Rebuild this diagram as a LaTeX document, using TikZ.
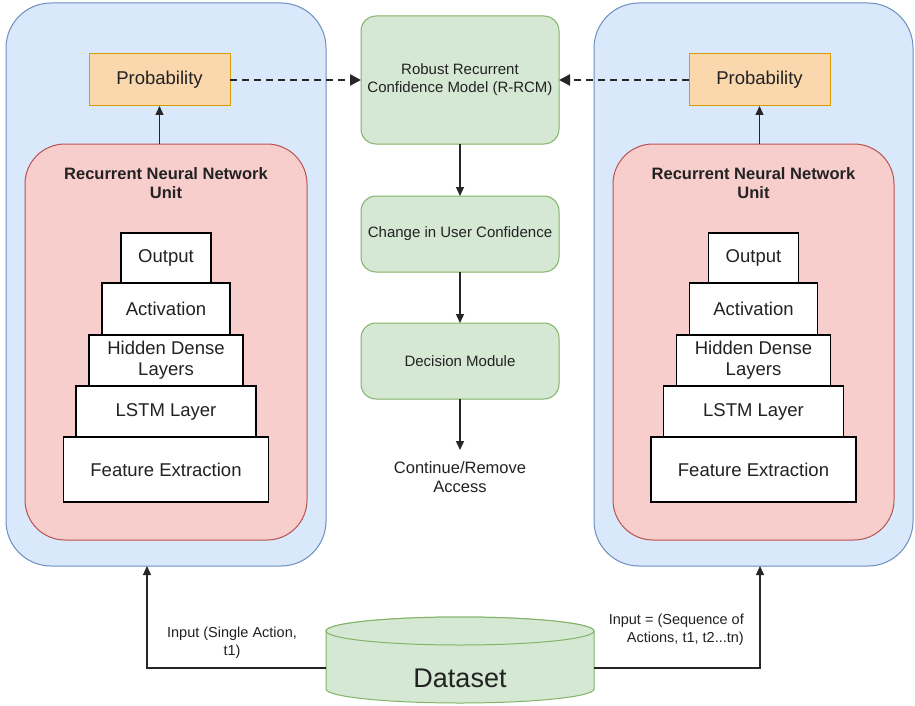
\documentclass[tikz,border=0pt]{standalone}
\usepackage{fontspec}
\setmainfont{Liberation Sans}
\usetikzlibrary{arrows.meta}

\definecolor{bluefill}{HTML}{DAE8FC}
\definecolor{blueline}{HTML}{6C8EBF}
\definecolor{redfill}{HTML}{F8CECC}
\definecolor{redline}{HTML}{B85450}
\definecolor{greenfill}{HTML}{D5E8D4}
\definecolor{greenline}{HTML}{82B366}
\definecolor{orangefill}{HTML}{FAD7AC}
\definecolor{orangeline}{HTML}{D79B00}
\definecolor{txt}{HTML}{222222}

\tikzset{
  panel/.style={draw=blueline, fill=bluefill, line width=1pt, rounded corners=45pt,
    inner sep=0pt, outer sep=0pt},
  rnnbox/.style={draw=redline, fill=redfill, line width=1pt, rounded corners=40pt,
    inner sep=0pt, outer sep=0pt},
  probbox/.style={draw=orangeline, fill=orangefill, line width=1pt, inner sep=0pt,
    outer sep=0pt, minimum width=141pt, minimum height=52pt, text=txt,
    font=\fontsize{18.5}{21}\selectfont},
  greenbox/.style={draw=greenline, fill=greenfill, line width=1pt, rounded corners=15pt,
    inner sep=0pt, outer sep=0pt, minimum width=198pt, text=txt, align=center,
    font=\fontsize{15}{18}\selectfont},
  layerbox/.style={draw=black, fill=white, line width=1.3pt, inner sep=0pt, outer sep=0pt,
    text=txt, align=center, font=\fontsize{18.5}{21}\selectfont},
  rnntitle/.style={text=txt, align=center, font=\bfseries\fontsize{16.5}{19}\selectfont},
  plainlabel/.style={text=txt, inner sep=0pt, font=\fontsize{14.5}{18}\selectfont},
  arr/.style={draw=black!85, line width=1.3pt, -{Triangle[length=9pt,width=8pt]}},
  dasharr/.style={draw=black!85, line width=2.3pt, dash pattern=on 7pt off 5pt,
    -{Triangle[length=11pt,width=11pt]}},
}

\begin{document}
\begin{tikzpicture}[x=1pt,y=-1pt]
\useasboundingbox (0,0) rectangle (915,706);
\fill[white] (0,0) rectangle (915,706);

% outer panels
\node[panel, minimum width=320pt, minimum height=563pt] (blueL) at (166,284.5) {};
\node[panel, minimum width=319pt, minimum height=563pt] (blueR) at (753.5,284.5) {};

% recurrent units
\node[rnnbox, minimum width=282pt, minimum height=396pt] (rnnL) at (166,342) {};
\node[rnnbox, minimum width=281pt, minimum height=396pt] (rnnR) at (753.5,342) {};
\node[rnntitle] (titleL) at (166,183) {Recurrent Neural Network\\Unit};
\node[rnntitle] (titleR) at (753.5,183) {Recurrent Neural Network\\Unit};

% layer stacks
\foreach \side/\cx in {L/166, R/753.5} {
  \node[layerbox, minimum width=90pt,  minimum height=50pt] (out\side)  at (\cx,258)   {Output};
  \node[layerbox, minimum width=128pt, minimum height=52pt] (act\side)  at (\cx,309)   {Activation};
  \node[layerbox, minimum width=154pt, minimum height=51pt] (hid\side)  at (\cx,360.5) {Hidden Dense\\Layers};
  \node[layerbox, minimum width=180pt, minimum height=51pt] (lstm\side) at (\cx,411.5) {LSTM Layer};
  \node[layerbox, minimum width=205pt, minimum height=65pt] (feat\side) at (\cx,469.5) {Feature Extraction};
}

% probability outputs
\node[probbox] (probL) at (159.5,80) {Probability};
\node[probbox] (probR) at (759.5,80) {Probability};

% central pipeline
\node[greenbox, minimum height=128pt] (rrcm) at (460,80) {Robust Recurrent\\Confidence Model (R-RCM)};
\node[greenbox, minimum height=76pt] (change) at (460,234) {Change in User Confidence};
\node[greenbox, minimum height=76pt] (decide) at (460,361) {Decision Module};
\node[text=txt, align=center, font=\fontsize{16.5}{18.5}\selectfont] (result) at (460,477) {Continue/Remove\\Access};
\coordinate (resultTop) at (460,450);

% dataset cylinder
\node[minimum width=268pt, minimum height=72pt, inner sep=0pt, outer sep=0pt] (db) at (460,668) {};
\path[draw=greenline, fill=greenfill, line width=1pt]
  (326,631) -- (326,689) arc[start angle=180, end angle=0, x radius=134, y radius=14]
  -- (594,631) arc[start angle=0, end angle=-180, x radius=134, y radius=14] -- cycle;
\path[draw=greenline, fill=greenfill, line width=1pt]
  (460,631) ellipse[x radius=134, y radius=14];
\node[text=txt, font=\fontsize{27}{30}\selectfont] (dbtext) at (460,678) {Dataset};

% connectors
\draw[arr] (rnnL.north -| probL.south) -- (probL.south);
\draw[arr] (rnnR.north -| probR.south) -- (probR.south);
\draw[dasharr] (probL.east) -- (rrcm.west);
\draw[dasharr] (probR.west) -- (rrcm.east);
\draw[arr] (rrcm.south) -- (change.north);
\draw[arr] (change.south) -- (decide.north);
\draw[arr] (decide.south) -- (resultTop);
\draw[arr] (db.west) -| ([xshift=-19pt]blueL.south);
\draw[arr] (db.east) -| ([xshift=6.5pt]blueR.south);

% input labels
\node[plainlabel, align=center] (inL) at (232,643) {Input (Single Action,\\t1)};
\node[plainlabel, align=right, anchor=east] (inR) at (744,630) {Input = (Sequence of\\Actions, t1, t2...tn)};
\end{tikzpicture}
\end{document}
